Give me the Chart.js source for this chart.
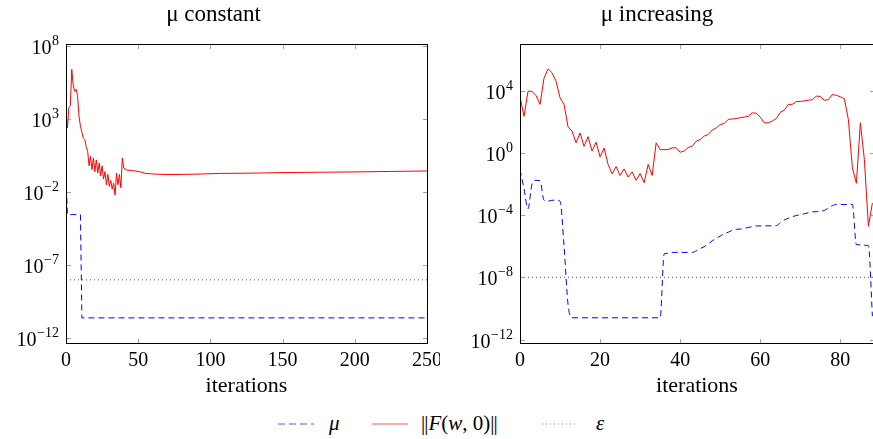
<!DOCTYPE html>
<html>
<head>
<meta charset="utf-8">
<script src="https://cdn.jsdelivr.net/npm/chart.js@4.4.1/dist/chart.umd.min.js"></script>
<style>
    html, body { margin: 0; padding: 0; width: 873px; height: 439px; overflow: hidden; background: #fff; }
    #leftChart { position: absolute; left: 0; top: 0; }
    #rightChart { position: absolute; left: 440px; top: 0; }
    #legend { position: absolute; left: 0; top: 408px; width: 873px; height: 31px;
              font-family: "Liberation Serif", serif; font-size: 21px; color: #000; }
    #legend .item { position: absolute; top: 0; line-height: 31px; white-space: nowrap; }
    #legend svg { position: absolute; top: 15px; }
    #legend i { font-style: italic; }
    #legend .bar { letter-spacing: -1px; margin-right: 1px; }
</style>
</head>
<body>
<canvas id="leftChart" width="440" height="400"></canvas>
<canvas id="rightChart" width="440" height="400"></canvas>
<div id="legend">
    <svg style="left:278px" width="36" height="2"><line x1="0" y1="1" x2="36" y2="1" stroke="#5555ff" stroke-width="1.2" stroke-dasharray="7,4"/></svg>
    <span class="item" style="left:329px"><i>μ</i></span>
    <svg style="left:372px" width="36" height="2"><line x1="0" y1="1" x2="36" y2="1" stroke="#ff5555" stroke-width="1.2"/></svg>
    <span class="item" style="left:421px"><span class="bar">||</span><i>F</i>(<i>w</i>, 0)<span class="bar">||</span></span>
    <svg style="left:542px" width="36" height="2"><line x1="0" y1="1" x2="36" y2="1" stroke="#777" stroke-width="1" stroke-dasharray="1,3"/></svg>
    <span class="item" style="left:596px"><i>ε</i></span>
</div>
<script>
// ---- left panel: mu constant ----
var leftRedIter = [0, 1, 2, 3, 4, 5, 6, 7, 8, 9, 10, 11, 12, 13, 14, 15, 16, 17, 18, 19, 20,
    21, 22, 23, 24, 25, 26, 27, 28, 29, 30, 31, 32, 33, 34, 35, 36, 37, 38, 39, 40,
    42, 46, 51, 55, 62, 72, 90, 107, 130, 153, 175, 199, 225, 250];
var leftRed = [4.5e3, 2.5e2, 6.3e3, 7.9e3, 2.5e6, 2.0e5, 7.9e4, 1.1e5, 4.0e4, 1.6e3, 3.2e2,
    1.3e2, 50, 40, 13, 6.3, 0.63, 2.8, 0.35, 2.2, 0.25,
    1.6, 0.2, 1.0, 0.13, 0.63, 0.079, 0.25, 0.032, 0.16, 0.025,
    0.063, 0.016, 0.04, 0.0063, 0.2, 0.032, 0.16, 0.02, 2.2, 0.45,
    0.32, 0.3, 0.25, 0.19, 0.17, 0.16, 0.17, 0.19, 0.2, 0.22, 0.23, 0.24, 0.26, 0.28];
var leftMuIter = [0, 1, 10, 11, 250];
var leftMu = [0.1, 2.9e-4, 2.9e-4, 2.5e-11, 2.5e-11];
var leftEpsIter = [0, 250];
var leftEps = [1e-8, 1e-8];
var leftXTicks = [0, 50, 100, 150, 200, 250];
var leftYTicks = [1e-12, 1e-7, 1e-2, 1e3, 1e8];

// ---- right panel: mu increasing (one value per iteration 0..88) ----
var rightRed = [4.0e3, 2.2e2, 9.1e3, 9.1e3, 4.8e3, 1.3e3, 6.3e4, 2.5e5, 1.4e5, 4.0e4,
    3.4e3, 1.3e3, 47, 25, 4.4, 19, 2.6, 11, 1.3, 4.8,
    0.55, 2.0, 0.18, 0.045, 0.13, 0.035, 0.093, 0.028, 0.06, 0.017,
    0.047, 0.012, 0.18, 0.035, 4.4, 1.6, 1.6, 1.6, 2.1, 2.1,
    1.1, 1.3, 2.2, 2.6, 5.6, 7.2, 12, 15, 29, 40,
    66, 76, 140, 150, 160, 180, 200, 220, 370, 350,
    200, 85, 85, 110, 160, 410, 550, 1.3e3, 1.3e3, 2.0e3,
    2.0e3, 2.2e3, 2.4e3, 2.6e3, 4.4e3, 4.2e3, 2.4e3, 2.6e3, 5.5e3, 5.0e3,
    4.0e3, 3.0e3, 140, 0.11, 0.011, 85, 0.36, 1.9e-5, 6.0e-4];
var rightMuIter = [0, 1, 2, 3, 4, 5, 6, 7, 8, 9, 10, 11, 12, 13, 35, 36, 37, 38, 43, 44,
    45, 46, 47, 48, 49, 50, 51, 52, 53, 54, 55, 56, 57, 58, 59, 64, 65, 66, 67, 68,
    69, 70, 71, 72, 73, 74, 75, 76, 77, 78, 79, 83, 84, 87, 88];
var rightMu = [0.085, 5e-3, 2.5e-4, 0.01, 0.017, 0.016, 8.9e-4, 7.9e-4, 8.9e-4, 9.1e-4,
    7.9e-4, 1e-6, 1.8e-10, 2.5e-11, 2.5e-11, 3.2e-7, 3.5e-7, 4e-7, 4e-7, 5e-7,
    7e-7, 9.3e-7, 1.4e-6, 2.2e-6, 3.2e-6, 4.5e-6, 6.3e-6, 7.9e-6, 1.05e-5, 1.2e-5,
    1.26e-5, 1.4e-5, 1.6e-5, 1.8e-5, 2e-5, 2.1e-5, 3.2e-5, 4.8e-5, 6.3e-5, 7.9e-5,
    9.3e-5, 1.07e-4, 1.2e-4, 1.4e-4, 1.6e-4, 1.66e-4, 1.74e-4, 2e-4, 2.8e-4, 4e-4,
    4.8e-4, 4.8e-4, 1.26e-6, 1.07e-6, 3.2e-11];
var rightEpsIter = [0, 90];
var rightEps = [1e-8, 1e-8];
var rightXTicks = [0, 20, 40, 60, 80];
var rightYTicks = [1e-12, 1e-8, 1e-4, 1e0, 1e4];

var serif = '"Liberation Serif", "Times New Roman", serif';

function pts(xs, ys) {
    return ys.map(function (v, i) { return { x: xs[i], y: v }; });
}

// pgfplots-like box: frame, inward ticks on all sides, 10^n labels
var pgfBox = {
    id: 'pgfBox',
    afterDraw: function (chart) {
        var ctx = chart.ctx, a = chart.chartArea;
        var xs = chart.scales.x, ys = chart.scales.y;
        var L = Math.round(a.left) + 0.5, R = Math.round(a.right) + 0.5;
        var T = Math.round(a.top) + 0.5, B = Math.round(a.bottom) + 0.5;
        ctx.save();
        ctx.strokeStyle = '#888';
        ctx.lineWidth = 0.8;
        ctx.beginPath();
        xs.ticks.forEach(function (t) {
            var px = Math.round(xs.getPixelForValue(t.value)) + 0.5;
            ctx.moveTo(px, B); ctx.lineTo(px, B - 4.5);
            ctx.moveTo(px, T); ctx.lineTo(px, T + 4.5);
        });
        ys.ticks.forEach(function (t) {
            var py = Math.round(ys.getPixelForValue(t.value)) + 0.5;
            ctx.moveTo(L, py); ctx.lineTo(L + 4.5, py);
            ctx.moveTo(R, py); ctx.lineTo(R - 4.5, py);
        });
        ctx.stroke();
        ctx.strokeStyle = '#000';
        ctx.lineWidth = 1;
        ctx.strokeRect(L, T, R - L, B - T);

        ctx.fillStyle = '#000';
        ctx.textAlign = 'left';
        ctx.textBaseline = 'alphabetic';
        ys.ticks.forEach(function (t) {
            var py = ys.getPixelForValue(t.value);
            var exp = String(Math.round(Math.log10(t.value))).replace('-', '\u2212');
            ctx.font = '14px ' + serif;
            var ew = ctx.measureText(exp).width;
            var xr = a.left - 7;
            ctx.fillText(exp, xr - ew, py - 1);
            ctx.font = '20px ' + serif;
            var bw = ctx.measureText('10').width;
            ctx.fillText('10', xr - ew - bw - 0.5, py + 8);
        });
        ctx.restore();
    }
};

function makeChart(id, cfg) {
    return new Chart(document.getElementById(id).getContext('2d'), {
        type: 'line',
        data: {
            datasets: [{
                label: 'mu',
                data: cfg.mu,
                borderColor: '#0000ff',
                borderWidth: 1,
                borderDash: [6, 4],
                pointRadius: 0,
                cubicInterpolationMode: cfg.smooth ? 'monotone' : 'default',
                tension: 0
            }, {
                label: '||F(w,0)||',
                data: cfg.red,
                borderColor: '#ff0000',
                borderWidth: 1,
                pointRadius: 0,
                tension: 0
            }, {
                label: 'eps',
                data: cfg.eps,
                borderColor: '#555',
                borderWidth: 1,
                borderDash: [1, 3],
                pointRadius: 0
            }]
        },
        options: {
            responsive: false,
            animation: false,
            layout: { padding: { left: 0, right: cfg.padRight, top: 0, bottom: 0 } },
            plugins: {
                legend: { display: false },
                tooltip: { enabled: false },
                title: {
                    display: true,
                    text: cfg.title,
                    color: '#000',
                    font: { family: serif, size: 23, weight: 'normal' },
                    padding: { top: 1, bottom: 15 }
                }
            },
            scales: {
                x: {
                    type: 'linear',
                    min: cfg.xMin,
                    max: cfg.xMax,
                    afterBuildTicks: function (s) { s.ticks = cfg.xTicks.map(function (v) { return { value: v }; }); },
                    afterFit: function (s) { s.height = 57; s.paddingLeft = 0; s.paddingRight = 0; },
                    grid: { display: false, drawTicks: false },
                    border: { display: false },
                    ticks: { color: '#000', font: { family: serif, size: 20 }, padding: 6, maxRotation: 0, autoSkip: false },
                    title: { display: true, text: 'iterations', color: '#000', font: { family: serif, size: 22 }, padding: { top: 0, bottom: 1 } }
                },
                y: {
                    type: 'logarithmic',
                    min: cfg.yMin,
                    max: cfg.yMax,
                    afterBuildTicks: function (s) { s.ticks = cfg.yTicks.map(function (v) { return { value: v }; }); },
                    afterFit: function (s) { s.width = cfg.yWidth; s.paddingTop = 0; s.paddingBottom = 0; },
                    grid: { display: false, drawTicks: false },
                    border: { display: false },
                    ticks: { display: false }
                }
            }
        },
        plugins: [pgfBox]
    });
}

document.addEventListener('DOMContentLoaded', function () {
    makeChart('leftChart', {
        title: 'μ constant',
        mu: pts(leftMuIter, leftMu),
        red: pts(leftRedIter, leftRed),
        eps: pts(leftEpsIter, leftEps),
        xMin: 0, xMax: 250, xTicks: leftXTicks,
        yMin: Math.pow(10, -12.32), yMax: Math.pow(10, 8.16), yTicks: leftYTicks,
        yWidth: 66, padRight: 13, smooth: false
    });
    makeChart('rightChart', {
        title: 'μ increasing',
        mu: pts(rightMuIter, rightMu),
        red: rightRed.map(function (v, i) { return { x: i, y: v }; }),
        eps: pts(rightEpsIter, rightEps),
        xMin: 0, xMax: 88.4, xTicks: rightXTicks,
        yMin: Math.pow(10, -12.22), yMax: Math.pow(10, 7.02), yTicks: rightYTicks,
        yWidth: 80, padRight: 6, smooth: true
    });
});
</script>
</body>
</html>
